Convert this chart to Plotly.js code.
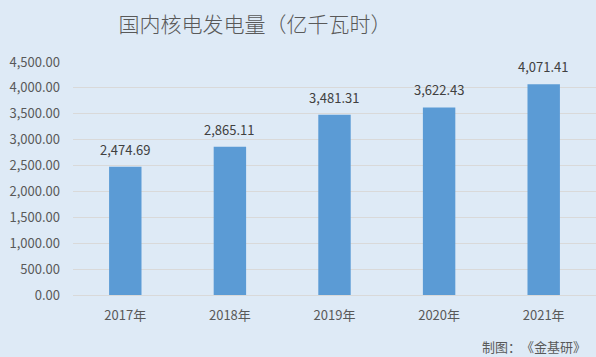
<!DOCTYPE html>
<html><head><meta charset="utf-8">
<script src="https://cdn.plot.ly/plotly-3.0.1.min.js"></script>
<style>html,body{margin:0;padding:0;background:#DEEAF6;}</style>
</head><body>
<div id="chart" style="width:596px;height:357px;"></div>
<script>
const categories = ["2017年","2018年","2019年","2020年","2021年"];
const values = [2474.69, 2865.11, 3481.31, 3622.43, 4071.41];
const yTicks = [0,500,1000,1500,2000,2500,3000,3500,4000,4500];

const bg = "#DEEAF6";
const font = "'Noto Sans CJK SC', 'Liberation Sans', sans-serif";
const fmt = v => v.toLocaleString("en-US",{minimumFractionDigits:2, maximumFractionDigits:2});

const labelAnnotations = categories.map((c, i) => ({
  x: c, y: values[i], xref: "x", yref: "y", text: fmt(values[i]),
  showarrow: false, xanchor: "center", yanchor: "bottom", yshift: 6,
  font: {size: 13, color: "#404040", family: font}
}));

Plotly.newPlot("chart", [{
  type: "bar",
  x: categories,
  y: values,
  marker: {color: "#5B9BD5"},
  hoverinfo: "none"
}], {
  width: 596, height: 357,
  paper_bgcolor: bg, plot_bgcolor: bg,
  margin: {l: 73, r: 0, t: 62, b: 62},
  bargap: 0.69,
  showlegend: false,
  font: {family: font, color: "#595959", size: 13},
  title: {text: "国内核电发电量（亿千瓦时）", x: 0.428, xanchor: "center", y: 0.93, yanchor: "middle",
          font: {size: 21, color: "#595959", family: font, weight: 300}},
  xaxis: {type: "category", showgrid: false, showline: true, linecolor: "#D9D9D9", linewidth: 1,
          ticks: "", tickfont: {size: 13, color: "#595959"}, ticklabelstandoff: 8},
  yaxis: {range: [0, 4500], tickvals: yTicks, ticktext: yTicks.map(fmt),
          showgrid: true, gridcolor: "#D9D9D9", gridwidth: 1, zeroline: false, showline: false,
          ticks: "", ticklabelstandoff: 12, tickfont: {size: 13, color: "#595959"}},
  annotations: labelAnnotations.concat([{text: "制图：　《金基研》", xref: "paper", yref: "paper", x: 0.985, y: -0.223,
                 xanchor: "right", yanchor: "middle", showarrow: false,
                 font: {size: 13, color: "#595959", family: font}}])
}, {displayModeBar: false, staticPlot: true});
</script>
</body></html>
